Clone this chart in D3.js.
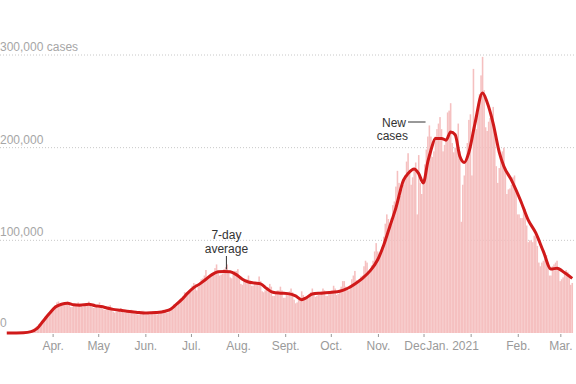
<!DOCTYPE html>
<html><head><meta charset="utf-8">
<script src="https://cdn.jsdelivr.net/npm/d3@7"></script>
<style>body{margin:0;background:#fff}svg{display:block}text{font-family:"Liberation Sans",Arial,sans-serif}</style>
</head><body><svg id="c" width="576" height="384"></svg>
<script>
// Daily new cases (thousands), one value per day starting 2020-03-01
const startDate = "2020-03-01";
const dailyCases = [
 0,0,0,0,0.1,0.1,0.1,
 0.2,0.2,0.3,0.4,0.5,0.7,0.8,
 1,1.3,1.9,3,4.6,6,7.5,
 9.5,11,11.5,13.5,17.5,18.5,19.5,
 20,22,25,27,30,33,34,
 29,30,31,31,33,34,32,
 28,28,29,30,31,33,32,
 29,28,29,30,32,34,31,
 28,27,27,29,31,33,29,
 26,25,25,26,29,30,27,
 23,22,23,23,26,27,25,
 22,22,22,23,24,25,24,
 21,21,20,20,22,24,24,
 20,20,21,20,22,23,22,
 21,20,21,22,23,25,24,
 22,22,24,26,28,31,31,
 29,31,36,38,40,44,42,
 42,44,48,51,54,53,46,
 50,52,58,59,62,68,61,
 60,61,64,66,70,74,65,
 62,63,64,69,71,74,66,
 60,59,64,67,67,69,60,
 53,52,56,55,58,62,56,
 51,51,55,54,54,61,56,
 45,44,46,48,49,53,50,
 40,40,42,46,46,50,46,
 38,38,42,41,45,48,44,
 36,32,33,36,38,45,41,
 36,36,39,40,44,48,44,
 39,40,41,41,45,48,46,
 40,40,44,43,46,51,48,
 41,42,44,50,56,56,50,
 47,46,51,58,62,67,57,
 54,58,61,62,72,78,76,
 66,69,73,78,88,97,88,
 86,88,93,104,118,128,123,
 118,124,138,142,158,175,162,
 148,155,160,170,185,194,176,
 160,168,178,184,128,192,162,
 150,162,182,198,212,224,212,
 190,196,212,220,226,233,220,
 196,203,208,238,240,248,205,
 195,200,205,226,196,120,160,
 170,185,205,230,236,170,285,
 225,220,238,258,278,298,262,
 222,218,228,232,236,244,215,
 180,162,178,186,196,200,178,
 150,155,156,160,168,170,152,
 128,128,124,124,136,134,116,
 98,100,100,98,105,104,94,
 76,72,76,78,80,84,76,
 62,62,72,74,76,78,68,
 56,58,60,66,68,66,62,
 52,54
];
// 7-day average (thousands) read at key dates
const avgDates = ["2020-03-01","2020-03-12","2020-03-17","2020-03-21","2020-03-25","2020-03-29","2020-04-02","2020-04-06","2020-04-10","2020-04-14","2020-04-18","2020-04-24","2020-04-28","2020-05-02","2020-05-06","2020-05-10","2020-05-15","2020-05-19","2020-05-25","2020-06-01","2020-06-07","2020-06-13","2020-06-17","2020-06-20","2020-06-24","2020-06-28","2020-07-02","2020-07-06","2020-07-10","2020-07-14","2020-07-18","2020-07-22","2020-07-26","2020-07-30","2020-08-03","2020-08-07","2020-08-11","2020-08-15","2020-08-19","2020-08-23","2020-08-28","2020-09-02","2020-09-07","2020-09-11","2020-09-14","2020-09-18","2020-09-24","2020-10-01","2020-10-06","2020-10-11","2020-10-16","2020-10-21","2020-10-26","2020-10-31","2020-11-04","2020-11-08","2020-11-12","2020-11-17","2020-11-20","2020-11-24","2020-11-27","2020-11-30","2020-12-03","2020-12-05","2020-12-08","2020-12-12","2020-12-15","2020-12-18","2020-12-21","2020-12-24","2020-12-27","2020-12-30","2021-01-03","2021-01-08","2021-01-11","2021-01-15","2021-01-19","2021-01-22","2021-01-27","2021-02-02","2021-02-07","2021-02-12","2021-02-17","2021-02-22","2021-02-26","2021-03-03","2021-03-08"];
const avgValues = [0,0.3,1.5,5,13,21,28,31,32,30.5,30,31,29.5,28.5,27,25.5,24.5,23.5,22.5,21.5,22,23.5,26,30,36,43,49,53,58,63,66,66.5,66,63,58,55,54,53,48,44,43,42.5,40,36,38,42,43,44,45,48,53,59,67,79,95,115,135,165,172,177,172,162,185,197,210,210,208,217,214,191,184,195,226,259,249,226,195,180,165,143,122,108,88,69,70,65,59];
const tickMonths = ["2020-04-01","2020-05-01","2020-06-01","2020-07-01","2020-08-01","2020-09-01","2020-10-01","2020-11-01","2020-12-01","2021-01-01","2021-02-01","2021-03-01"];
const tickLabels = ["Apr.","May","Jun.","Jul.","Aug.","Sept.","Oct.","Nov.","Dec","Jan. 2021","Feb.","Mar."];
const yTickValues = [0,100000,200000,300000];
const yTickLabels = ["0","100,000","200,000","300,000 cases"];

const svg = d3.select("#c");
const parse = d3.utcParse("%Y-%m-%d");
const t0 = parse(startDate);
const days = dailyCases.map((v,i)=>({d:d3.utcDay.offset(t0,i), v:v*1000}));
const x = d3.scaleUtc().domain([t0, parse("2021-03-09")]).range([6,573]);
const y = d3.scaleLinear().domain([0,300000]).range([333,55]);
const step = x(d3.utcDay.offset(t0,1)) - x(t0);

// gridlines
svg.append("g").selectAll("line").data(yTickValues.filter(v=>v>0)).join("line")
  .attr("x1",0).attr("x2",576).attr("y1",d=>y(d)).attr("y2",d=>y(d))
  .attr("stroke","#c8c8c8").attr("stroke-width",1).attr("stroke-dasharray","1,2");
svg.append("g").selectAll("text").data(yTickValues).join("text")
  .attr("x",0).attr("y",d=>y(d)-(d===0?6:4)).attr("font-size",12).attr("fill","#a6a6a6")
  .text((d,i)=>yTickLabels[i]);

// bars
svg.append("g").selectAll("rect").data(days).join("rect")
  .attr("x",d=>x(d.d)).attr("width",step+0.05)
  .attr("y",d=>y(d.v)).attr("height",d=>y(0)-y(d.v))
  .attr("fill","#f5c0c0");

// ticks
const janX = x(parse("2021-01-01")) - 45;
const tg = svg.append("g");
tg.selectAll("line").data(tickMonths).join("line")
  .attr("x1",d=>x(parse(d))).attr("x2",d=>x(parse(d)))
  .attr("y1",334).attr("y2",337).attr("stroke","#999").attr("stroke-width",1);
tg.selectAll("text").data(tickMonths).join("text")
  .attr("x",(d,i)=>tickLabels[i].includes("2021")?janX:(tickLabels[i]==="Dec"?janX-0.5:x(parse(d))))
  .attr("y",350)
  .attr("text-anchor",(d,i)=>tickLabels[i].includes("2021")?"start":(tickLabels[i]==="Dec"?"end":"middle"))
  .attr("font-size",12).attr("fill","#9a9a9a")
  .text((d,i)=>tickLabels[i]);

// 7-day average line
const avg = avgDates.map((d,i)=>({d:parse(d), v:avgValues[i]*1000}));
svg.append("path").datum(avg)
  .attr("d",d3.line().x(d=>x(d.d)+step/2).y(d=>y(d.v)).curve(d3.curveMonotoneX))
  .attr("fill","none").attr("stroke","#d01a1a").attr("stroke-width",3).attr("stroke-linejoin","round");

// annotations
const ax = x(parse("2020-07-24"));
svg.append("text").attr("x",ax).attr("y",239).attr("text-anchor","middle").attr("font-size",12).attr("fill","#333").text("7-day");
svg.append("text").attr("x",ax).attr("y",253).attr("text-anchor","middle").attr("font-size",12).attr("fill","#333").text("average");
svg.append("line").attr("x1",ax).attr("x2",ax).attr("y1",256).attr("y2",y(66500)-2).attr("stroke","#333").attr("stroke-width",1);

svg.append("text").attr("x",406).attr("y",127).attr("text-anchor","end").attr("font-size",12).attr("fill","#333").text("New");
svg.append("text").attr("x",408).attr("y",140).attr("text-anchor","end").attr("font-size",12).attr("fill","#333").text("cases");
svg.append("line").attr("x1",408).attr("x2",x(parse("2020-12-02"))).attr("y1",122).attr("y2",122).attr("stroke","#333").attr("stroke-width",1);
</script></body></html>
